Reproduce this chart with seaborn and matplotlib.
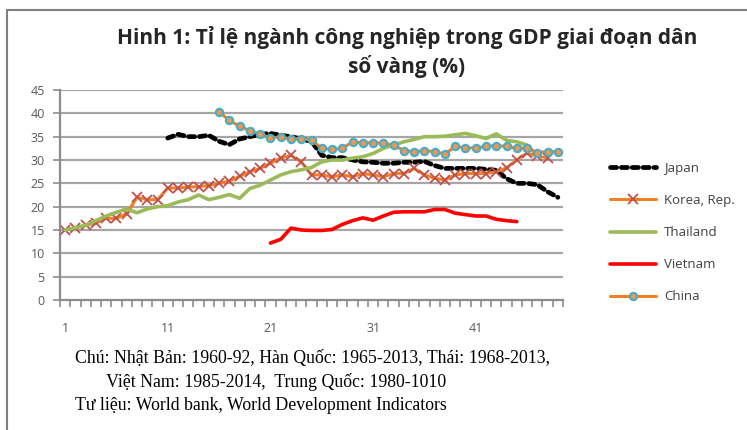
import matplotlib
matplotlib.use("Agg")
import matplotlib.pyplot as plt
import seaborn as sns
from matplotlib.lines import Line2D
from matplotlib.ticker import FixedLocator

# Tỉ lệ ngành công nghiệp trong GDP (%), trục hoành là năm thứ n của giai đoạn dân số vàng
japan_start = 11
japan = [34.7, 35.5, 35.0, 35.0, 35.3, 34.0, 33.3, 34.5, 35.0, 35.5,
         35.7, 35.3, 35.0, 34.5, 34.0, 31.0, 30.5, 30.5, 30.0, 29.6,
         29.5, 29.3, 29.3, 29.5, 29.5, 29.7, 28.8, 28.2, 28.2, 28.2,
         28.2, 28.0, 27.8, 26.0, 25.0, 25.0, 24.7, 23.2, 22.0]

korea_start = 1
korea = [15.0, 15.5, 16.0, 16.5, 17.5, 17.5, 18.5, 22.0, 21.5, 21.5,
         24.0, 24.0, 24.2, 24.3, 24.5, 25.0, 25.5, 26.5, 27.5, 28.2,
         29.3, 30.4, 31.0, 29.6, 26.8, 26.8, 26.4, 26.8, 26.4, 27.1,
         26.8, 26.4, 27.1, 27.1, 28.2, 26.8, 26.1, 25.7, 26.8, 27.1,
         27.1, 27.1, 27.5, 28.3, 30.0, 31.5, 30.8, 30.5]

thailand_start = 1
thailand = [15.0, 15.5, 16.0, 17.0, 18.0, 18.8, 19.5, 18.7, 19.5, 20.0,
            20.2, 21.0, 21.5, 22.5, 21.5, 22.0, 22.6, 21.8, 23.9, 24.6,
            25.7, 26.8, 27.5, 27.9, 28.4, 29.6, 30.0, 30.0, 30.4, 30.7,
            31.4, 32.5, 33.2, 33.9, 34.4, 35.0, 35.0, 35.1, 35.4, 35.7,
            35.2, 34.6, 35.6, 34.2, 33.9, 33.2]

vietnam_start = 21
vietnam = [12.2, 13.0, 15.4, 15.0, 14.9, 14.9, 15.1, 16.2, 17.0, 17.6,
           17.1, 18.0, 18.8, 18.9, 18.9, 18.9, 19.4, 19.4, 18.6, 18.3,
           18.0, 18.0, 17.3, 17.0, 16.8]

china_start = 16
china = [40.3, 38.5, 37.2, 36.3, 35.5, 34.8, 34.9, 34.5, 34.6, 34.3,
         32.5, 32.3, 32.5, 33.9, 33.7, 33.7, 33.6, 33.2, 32.0, 31.8,
         32.0, 31.8, 31.3, 32.9, 32.6, 32.6, 32.9, 33.1, 32.9, 32.5,
         32.6, 31.6, 31.8, 31.8]

n_categories = 49
x_labels = [1, 11, 21, 31, 41]
y_ticks = list(range(0, 50, 5))

title = "Hinh 1: Tỉ lệ ngành công nghiệp trong GDP giai đoạn dân\nsố vàng (%)"
note_lines = ["Chú: Nhật Bản: 1960-92, Hàn Quốc: 1965-2013, Thái: 1968-2013,",
              "       Việt Nam: 1985-2014,  Trung Quốc: 1980-1010",
              "Tư liệu: World bank, World Development Indicators"]

sns.set_theme(style="white")
plt.rcParams['font.family'] = ['Open Sans', 'DejaVu Sans']

W, H = 747, 430
fig = plt.figure(figsize=(W / 100, H / 100), dpi=100)
ax = fig.add_axes([60 / W, 1 - 300 / H, (563 - 60) / W, (300 - 90) / H])

ORANGE = "#F07F22"
GRID = "#A6A6A6"
AXIS = "#8C8C8C"
JP_DASH = (0, (1.3, 1.0))


def xs(start, vals):
    return list(range(start, start + len(vals)))


# lưới ngang
for v in y_ticks[1:]:
    ax.axhline(v, color=GRID, lw=1.6, zorder=0)

sns.lineplot(x=xs(japan_start, japan), y=japan, ax=ax, color="black",
             lw=3.4, linestyle=JP_DASH)
ax.lines[-1].set_dash_capstyle("round")
sns.lineplot(x=xs(korea_start, korea), y=korea, ax=ax, color=ORANGE, lw=2.2,
             marker="x", markersize=6.8, markeredgewidth=1.3,
             markeredgecolor="#C0504D")
sns.lineplot(x=xs(thailand_start, thailand), y=thailand, ax=ax,
             color="#9BBB59", lw=2.6)
sns.lineplot(x=xs(vietnam_start, vietnam), y=vietnam, ax=ax,
             color="#FF0000", lw=2.6)
sns.lineplot(x=xs(china_start, china), y=china, ax=ax, color=ORANGE, lw=2.2,
             marker="o", markersize=5.2, markeredgewidth=1.6,
             markerfacecolor="#F79646", markeredgecolor="#4BACC6")

ax.set_xlim(0.5, n_categories + 0.5)
ax.set_ylim(0, 45)
ax.set_xticks(x_labels)
ax.set_xticklabels([str(v) for v in x_labels])
ax.xaxis.set_minor_locator(FixedLocator([i + 0.5 for i in range(n_categories + 1)]))
ax.tick_params(axis="x", which="major", length=0, pad=16,
               labelsize=9, labelcolor="#595959")
ax.tick_params(axis="x", which="minor", length=5, width=1.2, color=AXIS,
               direction="out", bottom=True)
ax.set_yticks(y_ticks)
ax.tick_params(axis="y", length=5, width=1.2, color=AXIS, pad=6, left=True,
               labelsize=9, labelcolor="#595959")
ax.set_xlabel("")
ax.set_ylabel("")
for side in ["top", "right"]:
    ax.spines[side].set_visible(False)
for side in ["left", "bottom"]:
    ax.spines[side].set_color(AXIS)
    ax.spines[side].set_linewidth(1.6)
ax.grid(False)

handles = [
    Line2D([], [], color="black", lw=3.4, linestyle=JP_DASH,
           dash_capstyle="round"),
    Line2D([], [], color=ORANGE, lw=2.2, marker="x", markersize=6.8,
           markeredgewidth=1.3, markeredgecolor="#C0504D"),
    Line2D([], [], color="#9BBB59", lw=2.6),
    Line2D([], [], color="#FF0000", lw=2.6),
    Line2D([], [], color=ORANGE, lw=2.2, marker="o", markersize=5.2,
           markeredgewidth=1.6, markerfacecolor="#F79646",
           markeredgecolor="#4BACC6"),
]
labels = ["Japan", "Korea, Rep.", "Thailand", "Vietnam", "China"]
fig.legend(handles, labels, loc="upper left",
           bbox_to_anchor=(598 / W, 1 - 150 / H), frameon=False,
           fontsize=9.5, labelcolor="#404040", handlelength=3.5,
           handletextpad=0.6, labelspacing=1.45)

fig.text(407 / W, 1 - 52 / H, title, ha="center", va="center",
         fontsize=15, fontweight="bold", color="#262626", linespacing=1.35)

for i, line in enumerate(note_lines):
    fig.text(75 / W, 1 - (358 + 24 * i) / H, line, ha="left", va="center",
             fontsize=12.8, family=["Liberation Serif", "DejaVu Serif"],
             color="black")

# khung ngoài
fig.add_artist(Line2D([7 / W, 7 / W], [0, 1 - 10 / H], color="#7F7F7F",
                      lw=1.5, transform=fig.transFigure))
fig.add_artist(Line2D([7 / W, 1], [1 - 10 / H, 1 - 10 / H], color="#7F7F7F",
                      lw=1.5, transform=fig.transFigure))

fig.savefig("out.png", dpi=100, facecolor="white")
